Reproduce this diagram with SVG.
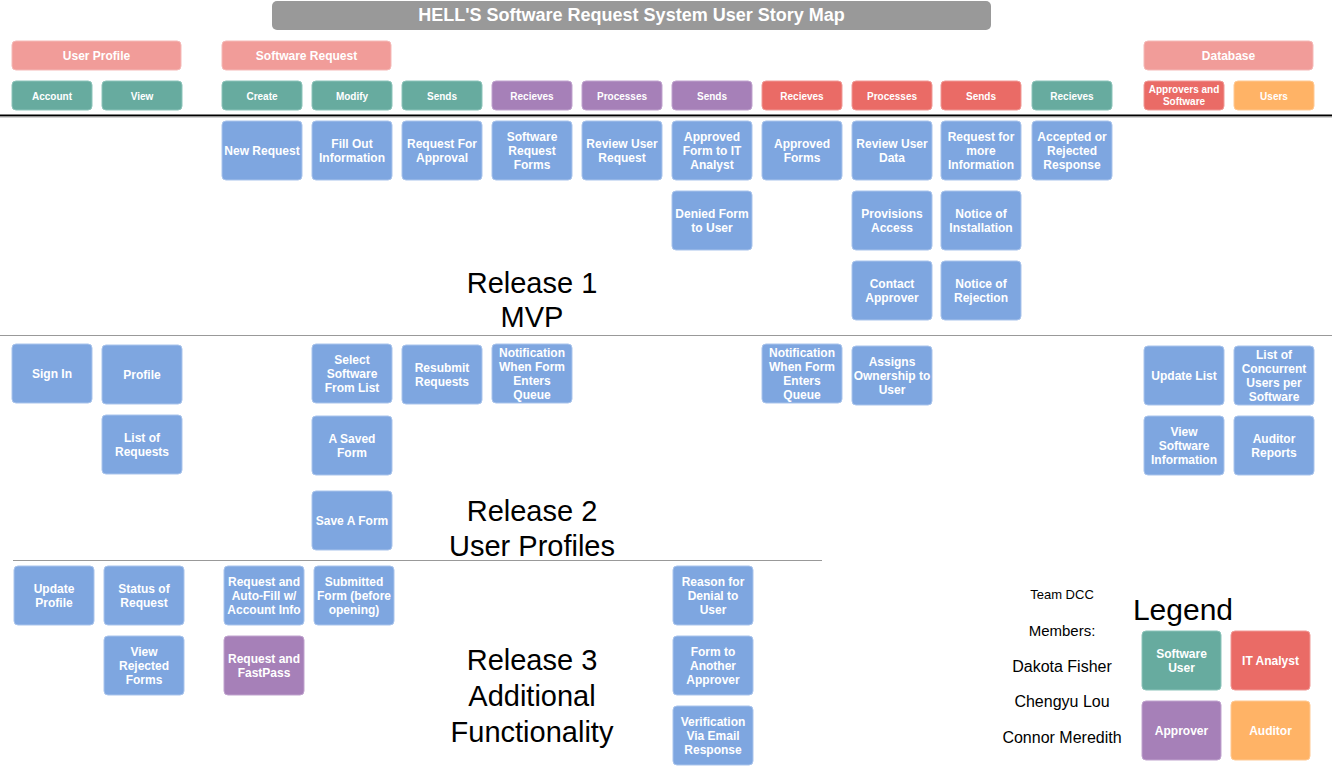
<svg xmlns="http://www.w3.org/2000/svg" width="1332" height="766" viewBox="0 0 1332 766">
<style>
text{font-family:"Liberation Sans",Arial,sans-serif;}
.c rect{rx:4;ry:4;}
.t{font-weight:bold;fill:#fff;font-size:12px;text-anchor:middle;}
.a{font-weight:bold;fill:#fff;font-size:10px;text-anchor:middle;}
.blue{fill:#7ea6e0;stroke:#a9c4ec;stroke-width:1;}
.teal{fill:#67ab9f;stroke:#8cc4ba;stroke-width:1;}
.purple{fill:#a680b8;stroke:#c0a3ce;stroke-width:1;}
.red{fill:#ea6b66;stroke:#f09a96;stroke-width:1;}
.orange{fill:#ffb366;stroke:#ffc993;stroke-width:1;}
.epic{fill:#f19c99;stroke:#f5b9b7;stroke-width:1;}
.rel{font-size:29px;fill:#000;text-anchor:middle;}
.team{fill:#000;text-anchor:middle;}
</style>

<g id="title">
<rect x="272" y="1" width="719" height="29" rx="5" fill="#999999"/>
<text x="631.5" y="21" style="font-weight:bold;font-size:18px;fill:#fff;text-anchor:middle">HELL'S Software Request System User Story Map</text>
</g>

<g id="connectors">
<line x1="0" y1="115.5" x2="1332" y2="115.5" stroke="#000" stroke-width="2"/>
<line x1="0" y1="117" x2="1332" y2="117" stroke="#aaa" stroke-width="1"/>
<line x1="0" y1="335.5" x2="1332" y2="335.5" stroke="#999" stroke-width="1.2"/>
<line x1="13" y1="560.5" x2="822" y2="560.5" stroke="#999" stroke-width="1.2"/>
</g>

<g id="epics">
<g id="epic-user-profile"><rect class="epic" x="12" y="41" width="169" height="29" rx="4"/><text class="t" x="96.5" y="59.5">User Profile</text></g>
<g id="epic-software-request"><rect class="epic" x="222" y="41" width="169" height="29" rx="4"/><text class="t" x="306.5" y="59.5">Software Request</text></g>
<g id="epic-database"><rect class="epic" x="1144" y="41" width="169" height="29" rx="4"/><text class="t" x="1228.5" y="59.5">Database</text></g>
</g>

<g id="activities">
<g id="act-account"><rect class="teal" x="12" y="81" width="80" height="29" rx="4"/><text class="a" x="52" y="99.5">Account</text></g>
<g id="act-view"><rect class="teal" x="102" y="81" width="80" height="29" rx="4"/><text class="a" x="142" y="99.5">View</text></g>
<g id="act-create"><rect class="teal" x="222" y="81" width="80" height="29" rx="4"/><text class="a" x="262" y="99.5">Create</text></g>
<g id="act-modify"><rect class="teal" x="312" y="81" width="80" height="29" rx="4"/><text class="a" x="352" y="99.5">Modify</text></g>
<g id="act-sends1"><rect class="teal" x="402" y="81" width="80" height="29" rx="4"/><text class="a" x="442" y="99.5">Sends</text></g>
<g id="act-recieves1"><rect class="purple" x="492" y="81" width="80" height="29" rx="4"/><text class="a" x="532" y="99.5">Recieves</text></g>
<g id="act-processes1"><rect class="purple" x="582" y="81" width="80" height="29" rx="4"/><text class="a" x="622" y="99.5">Processes</text></g>
<g id="act-sends2"><rect class="purple" x="672" y="81" width="80" height="29" rx="4"/><text class="a" x="712" y="99.5">Sends</text></g>
<g id="act-recieves2"><rect class="red" x="762" y="81" width="80" height="29" rx="4"/><text class="a" x="802" y="99.5">Recieves</text></g>
<g id="act-processes2"><rect class="red" x="852" y="81" width="80" height="29" rx="4"/><text class="a" x="892" y="99.5">Processes</text></g>
<g id="act-sends3"><rect class="red" x="941" y="81" width="80" height="29" rx="4"/><text class="a" x="981" y="99.5">Sends</text></g>
<g id="act-recieves3"><rect class="teal" x="1032" y="81" width="80" height="29" rx="4"/><text class="a" x="1072" y="99.5">Recieves</text></g>
<g id="act-approvers-software"><rect class="red" x="1144" y="81" width="80" height="29" rx="4"/><text class="a" x="1184" y="93">Approvers and<tspan x="1184" dy="12">Software</tspan></text></g>
<g id="act-users"><rect class="orange" x="1234" y="81" width="80" height="29" rx="4"/><text class="a" x="1274" y="99.5">Users</text></g>
</g>

<g id="release1">
<g id="r1-new-request"><rect class="blue" x="222" y="121" width="80" height="59" rx="4"/><text class="t" x="262" y="154.5">New Request</text></g>
<g id="r1-fill-out"><rect class="blue" x="312" y="121" width="80" height="59" rx="4"/><text class="t" x="352" y="147.5">Fill Out<tspan x="352" dy="14">Information</tspan></text></g>
<g id="r1-request-approval"><rect class="blue" x="402" y="121" width="80" height="59" rx="4"/><text class="t" x="442" y="147.5">Request For<tspan x="442" dy="14">Approval</tspan></text></g>
<g id="r1-software-request-forms"><rect class="blue" x="492" y="121" width="80" height="59" rx="4"/><text class="t" x="532" y="141">Software<tspan x="532" dy="14">Request</tspan><tspan x="532" dy="14">Forms</tspan></text></g>
<g id="r1-review-user-request"><rect class="blue" x="582" y="121" width="80" height="59" rx="4"/><text class="t" x="622" y="147.5">Review User<tspan x="622" dy="14">Request</tspan></text></g>
<g id="r1-approved-form-it"><rect class="blue" x="672" y="121" width="80" height="59" rx="4"/><text class="t" x="712" y="141">Approved<tspan x="712" dy="14">Form to IT</tspan><tspan x="712" dy="14">Analyst</tspan></text></g>
<g id="r1-approved-forms"><rect class="blue" x="762" y="121" width="80" height="59" rx="4"/><text class="t" x="802" y="147.5">Approved<tspan x="802" dy="14">Forms</tspan></text></g>
<g id="r1-review-user-data"><rect class="blue" x="852" y="121" width="80" height="59" rx="4"/><text class="t" x="892" y="147.5">Review User<tspan x="892" dy="14">Data</tspan></text></g>
<g id="r1-request-more-info"><rect class="blue" x="941" y="121" width="80" height="59" rx="4"/><text class="t" x="981" y="141">Request for<tspan x="981" dy="14">more</tspan><tspan x="981" dy="14">Information</tspan></text></g>
<g id="r1-accepted-rejected"><rect class="blue" x="1032" y="121" width="80" height="59" rx="4"/><text class="t" x="1072" y="141">Accepted or<tspan x="1072" dy="14">Rejected</tspan><tspan x="1072" dy="14">Response</tspan></text></g>
<g id="r1-denied-form"><rect class="blue" x="672" y="191" width="80" height="59" rx="4"/><text class="t" x="712" y="217.5">Denied Form<tspan x="712" dy="14">to User</tspan></text></g>
<g id="r1-provisions-access"><rect class="blue" x="852" y="191" width="80" height="59" rx="4"/><text class="t" x="892" y="217.5">Provisions<tspan x="892" dy="14">Access</tspan></text></g>
<g id="r1-notice-installation"><rect class="blue" x="941" y="191" width="80" height="59" rx="4"/><text class="t" x="981" y="217.5">Notice of<tspan x="981" dy="14">Installation</tspan></text></g>
<g id="r1-contact-approver"><rect class="blue" x="852" y="261" width="80" height="59" rx="4"/><text class="t" x="892" y="287.5">Contact<tspan x="892" dy="14">Approver</tspan></text></g>
<g id="r1-notice-rejection"><rect class="blue" x="941" y="261" width="80" height="59" rx="4"/><text class="t" x="981" y="287.5">Notice of<tspan x="981" dy="14">Rejection</tspan></text></g>
<text class="rel" x="532" y="293">Release 1</text>
<text class="rel" x="532" y="327">MVP</text>
</g>

<g id="release2">
<g id="r2-sign-in"><rect class="blue" x="12" y="344" width="80" height="59" rx="4"/><text class="t" x="52" y="377.5">Sign In</text></g>
<g id="r2-profile"><rect class="blue" x="102" y="345" width="80" height="59" rx="4"/><text class="t" x="142" y="378.5">Profile</text></g>
<g id="r2-list-requests"><rect class="blue" x="102" y="415" width="80" height="59" rx="4"/><text class="t" x="142" y="441.5">List of<tspan x="142" dy="14">Requests</tspan></text></g>
<g id="r2-select-software"><rect class="blue" x="312" y="344" width="80" height="59" rx="4"/><text class="t" x="352" y="364">Select<tspan x="352" dy="14">Software</tspan><tspan x="352" dy="14">From List</tspan></text></g>
<g id="r2-saved-form"><rect class="blue" x="312" y="416" width="80" height="59" rx="4"/><text class="t" x="352" y="442.5">A Saved<tspan x="352" dy="14">Form</tspan></text></g>
<g id="r2-save-form"><rect class="blue" x="312" y="491" width="80" height="59" rx="4"/><text class="t" x="352" y="524.5">Save A Form</text></g>
<g id="r2-resubmit"><rect class="blue" x="402" y="345" width="80" height="59" rx="4"/><text class="t" x="442" y="371.5">Resubmit<tspan x="442" dy="14">Requests</tspan></text></g>
<g id="r2-notification-1"><rect class="blue" x="492" y="344" width="80" height="59" rx="4"/><text class="t" x="532" y="356.5">Notification<tspan x="532" dy="14">When Form</tspan><tspan x="532" dy="14">Enters</tspan><tspan x="532" dy="14">Queue</tspan></text></g>
<g id="r2-notification-2"><rect class="blue" x="762" y="344" width="80" height="59" rx="4"/><text class="t" x="802" y="356.5">Notification<tspan x="802" dy="14">When Form</tspan><tspan x="802" dy="14">Enters</tspan><tspan x="802" dy="14">Queue</tspan></text></g>
<g id="r2-assigns-ownership"><rect class="blue" x="852" y="346" width="80" height="59" rx="4"/><text class="t" x="892" y="366">Assigns<tspan x="892" dy="14">Ownership to</tspan><tspan x="892" dy="14">User</tspan></text></g>
<g id="r2-update-list"><rect class="blue" x="1144" y="346" width="80" height="59" rx="4"/><text class="t" x="1184" y="379.5">Update List</text></g>
<g id="r2-concurrent-users"><rect class="blue" x="1234" y="346" width="80" height="59" rx="4"/><text class="t" x="1274" y="358.5">List of<tspan x="1274" dy="14">Concurrent</tspan><tspan x="1274" dy="14">Users per</tspan><tspan x="1274" dy="14">Software</tspan></text></g>
<g id="r2-view-software-info"><rect class="blue" x="1144" y="416" width="80" height="59" rx="4"/><text class="t" x="1184" y="436">View<tspan x="1184" dy="14">Software</tspan><tspan x="1184" dy="14">Information</tspan></text></g>
<g id="r2-auditor-reports"><rect class="blue" x="1234" y="416" width="80" height="59" rx="4"/><text class="t" x="1274" y="442.5">Auditor<tspan x="1274" dy="14">Reports</tspan></text></g>
<text class="rel" x="532" y="521">Release 2</text>
<text class="rel" x="532" y="556">User Profiles</text>
</g>

<g id="release3">
<g id="r3-update-profile"><rect class="blue" x="14" y="566" width="80" height="59" rx="4"/><text class="t" x="54" y="592.5">Update<tspan x="54" dy="14">Profile</tspan></text></g>
<g id="r3-status-request"><rect class="blue" x="104" y="566" width="80" height="59" rx="4"/><text class="t" x="144" y="592.5">Status of<tspan x="144" dy="14">Request</tspan></text></g>
<g id="r3-view-rejected"><rect class="blue" x="104" y="636" width="80" height="59" rx="4"/><text class="t" x="144" y="655.5">View<tspan x="144" dy="14">Rejected</tspan><tspan x="144" dy="14">Forms</tspan></text></g>
<g id="r3-autofill"><rect class="blue" x="224" y="566" width="80" height="59" rx="4"/><text class="t" x="264" y="586">Request and<tspan x="264" dy="14">Auto-Fill w/</tspan><tspan x="264" dy="14">Account Info</tspan></text></g>
<g id="r3-fastpass"><rect class="purple" x="224" y="636" width="80" height="59" rx="4"/><text class="t" x="264" y="662.5">Request and<tspan x="264" dy="14">FastPass</tspan></text></g>
<g id="r3-submitted-form"><rect class="blue" x="314" y="566" width="80" height="59" rx="4"/><text class="t" x="354" y="586">Submitted<tspan x="354" dy="14">Form (before</tspan><tspan x="354" dy="14">opening)</tspan></text></g>
<g id="r3-reason-denial"><rect class="blue" x="673" y="566" width="80" height="59" rx="4"/><text class="t" x="713" y="586">Reason for<tspan x="713" dy="14">Denial to</tspan><tspan x="713" dy="14">User</tspan></text></g>
<g id="r3-another-approver"><rect class="blue" x="673" y="636" width="80" height="59" rx="4"/><text class="t" x="713" y="656">Form to<tspan x="713" dy="14">Another</tspan><tspan x="713" dy="14">Approver</tspan></text></g>
<g id="r3-email-verification"><rect class="blue" x="673" y="706" width="80" height="59" rx="4"/><text class="t" x="713" y="726">Verification<tspan x="713" dy="14">Via Email</tspan><tspan x="713" dy="14">Response</tspan></text></g>
<text class="rel" x="532" y="670">Release 3</text>
<text class="rel" x="532" y="706">Additional</text>
<text class="rel" x="532" y="742">Functionality</text>
</g>

<g id="team">
<text class="team" x="1062" y="599" font-size="13">Team DCC</text>
<text class="team" x="1062" y="636" font-size="15">Members:</text>
<text class="team" x="1062" y="672" font-size="16">Dakota Fisher</text>
<text class="team" x="1062" y="707" font-size="16">Chengyu Lou</text>
<text class="team" x="1062" y="743" font-size="16">Connor Meredith</text>
</g>

<g id="legend">
<text x="1183" y="620" style="font-size:30px;fill:#000;text-anchor:middle">Legend</text>
<g id="legend-software-user"><rect class="teal" x="1142" y="631" width="79" height="59" rx="4"/><text class="t" x="1181.5" y="657.5">Software<tspan x="1181.5" dy="14">User</tspan></text></g>
<g id="legend-it-analyst"><rect class="red" x="1231" y="631" width="79" height="59" rx="4"/><text class="t" x="1270.5" y="665">IT Analyst</text></g>
<g id="legend-approver"><rect class="purple" x="1142" y="701" width="79" height="59" rx="4"/><text class="t" x="1181.5" y="735">Approver</text></g>
<g id="legend-auditor"><rect class="orange" x="1231" y="701" width="79" height="59" rx="4"/><text class="t" x="1270.5" y="735">Auditor</text></g>
</g>
</svg>
